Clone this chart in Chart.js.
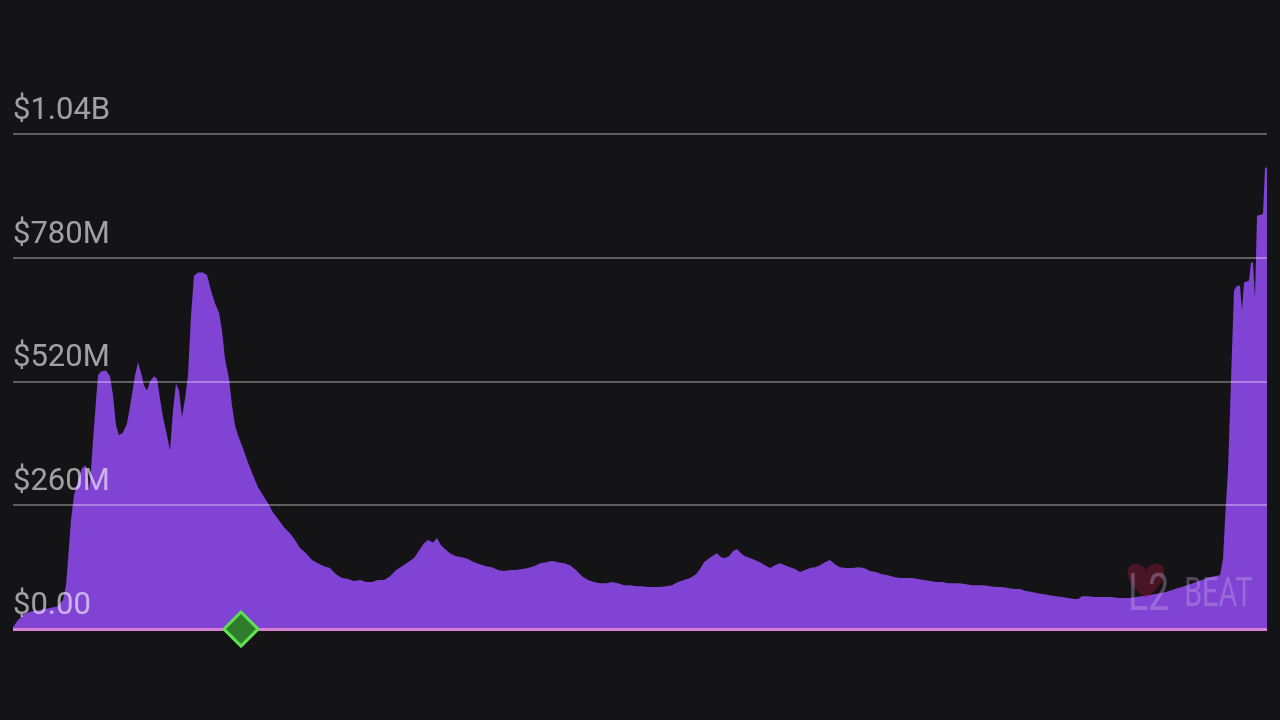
<!DOCTYPE html>
<html>
<head>
<meta charset="utf-8">
<script src="https://cdn.jsdelivr.net/npm/chart.js@4/dist/chart.umd.min.js"></script>
<style>
html,body{margin:0;padding:0;background:#141316;}
canvas{display:block;}
</style>
</head>
<body>
<canvas id="c" width="1280" height="720"></canvas>
<script>
// x positions (day index from start) and TVL values in millions USD
const days = [0,5,11,17,27,37,45,50,53,55,58,61,65,69,73,76,78,80,83,85,88,93,97,100,103,106,110,114,118,122,125,128,131,134,137,141,144,147,150,154,157,160,163,166,169,172,175,178,181,185,190,194,198,202,206,209,212,216,219,222,225,230,235,240,245,250,255,260,265,271,277,282,287,293,299,305,311,317,323,329,335,341,347,353,359,365,371,377,383,389,395,401,407,411,415,420,424,428,432,437,443,449,455,461,467,473,479,485,491,497,503,509,515,521,527,533,539,545,551,557,563,569,575,581,587,593,599,605,611,617,623,629,635,641,647,653,659,665,671,677,683,687,691,695,699,704,708,712,716,720,724,728,732,737,742,747,752,757,762,767,772,777,782,787,792,797,802,807,812,817,822,827,833,839,845,851,857,863,869,875,881,887,893,899,905,911,917,923,929,935,941,947,953,959,965,971,977,983,989,995,1001,1007,1013,1019,1025,1031,1037,1043,1049,1055,1061,1065,1069,1075,1081,1087,1093,1099,1105,1111,1117,1123,1129,1135,1141,1147,1153,1159,1165,1171,1177,1183,1189,1195,1201,1207,1210,1212,1215,1218,1221,1224,1227,1229,1231,1236,1238,1240,1242,1244,1250,1252,1254];
const tvl = [4,19,31,36,40,44,48,61,92,145,229,281,312,338,344,291,333,396,480,533,541,543,531,491,428,407,413,432,480,533,560,539,512,501,520,531,526,484,445,407,375,459,516,501,445,484,533,658,742,749,749,744,711,684,665,627,568,526,470,428,407,380,350,323,298,281,264,245,231,214,201,187,170,159,145,138,132,128,115,107,105,101,103,99,99,103,103,111,124,132,140,149,168,180,187,182,191,176,168,159,153,151,147,140,136,132,130,124,122,124,124,126,128,132,138,140,143,140,138,134,124,111,103,99,96,96,99,96,92,92,90,90,88,88,88,90,92,99,103,107,115,126,140,147,153,159,151,149,153,164,168,159,153,149,145,140,134,128,134,138,134,130,126,120,124,128,130,134,140,145,136,130,128,128,130,128,122,120,115,113,109,107,107,107,105,103,101,99,99,96,96,96,94,92,92,92,90,88,88,86,84,84,80,78,75,73,71,69,67,65,63,63,69,69,67,67,67,67,65,65,65,67,69,71,73,75,78,82,86,90,94,99,103,107,111,113,147,229,333,522,711,721,721,669,728,732,770,770,696,868,872,967,971];
const tickValues = [0, 260, 520, 780, 1040];
const tickLabels = ['$0.00', '$260M', '$520M', '$780M', '$1.04B'];
const markerDays = [228];
const markerValues = [0];

const lineData = days.map((d, i) => ({x: d, y: tvl[i]}));
const markerData = markerDays.map((d, i) => ({x: d, y: markerValues[i]}));

const redrawMarker = {
  id: 'redrawMarker',
  afterDraw(chart) {
    const ctx = chart.ctx;
    // watermark
    ctx.save();
    ctx.globalAlpha = 0.45;
    ctx.fillStyle = '#8a1838';
    const hx = 1146, hy = 574;
    ctx.beginPath();
    ctx.moveTo(hx, hy + 24);
    ctx.bezierCurveTo(hx - 24, hy + 8, hx - 22, hy - 12, hx - 8, hy - 10);
    ctx.bezierCurveTo(hx - 2, hy - 9, hx, hy - 4, hx, hy - 2);
    ctx.bezierCurveTo(hx, hy - 4, hx + 2, hy - 9, hx + 8, hy - 10);
    ctx.bezierCurveTo(hx + 22, hy - 12, hx + 24, hy + 8, hx, hy + 24);
    ctx.fill();
    ctx.globalAlpha = 1;
    ctx.fillStyle = 'rgba(205,185,235,0.33)';
    ctx.textBaseline = 'alphabetic';
    ctx.translate(1128, 610);
    ctx.scale(0.72, 1);
    ctx.font = '52px Roboto';
    ctx.fillText('L2', 0, 0);
    ctx.font = '40px Roboto';
    ctx.fillText('BEAT', 78, -4);
    ctx.restore();
    // marker on top of the baseline
    const meta = chart.getDatasetMeta(1);
    meta.data.forEach(el => el.draw(ctx));
  }
};

new Chart(document.getElementById('c'), {
  type: 'line',
  data: {
    datasets: [
      {
        data: lineData,
        fill: 'origin',
        backgroundColor: '#8043d3',
        borderWidth: 0,
        pointRadius: 0,
        tension: 0
      },
      {
        data: markerData,
        showLine: false,
        pointStyle: 'rectRot',
        pointRadius: 17,
        pointBorderWidth: 3,
        pointBackgroundColor: '#2f7d2c',
        pointBorderColor: '#5ce250',
        clip: false
      }
    ]
  },
  options: {
    responsive: false,
    devicePixelRatio: 1,
    animation: false,
    events: [],
    layout: {autoPadding: false, padding: {top: 134, left: 13, right: 13, bottom: 91}},
    plugins: {legend: {display: false}, tooltip: {enabled: false}},
    scales: {
      x: {
        type: 'linear',
        min: 0,
        max: 1254,
        display: false
      },
      y: {
        min: 0,
        max: 1040,
        border: {display: false},
        afterBuildTicks(scale) { scale.ticks = tickValues.map(v => ({value: v})); },
        grid: {
          z: 1,
          drawTicks: false,
          color: ctx => ctx.index === 0 ? '#d97fd4' : 'rgba(255,255,255,0.32)',
          lineWidth: ctx => ctx.index === 0 ? 3 : 2
        },
        ticks: {
          z: 2,
          mirror: true,
          padding: 0,
          labelOffset: -23,
          color: 'rgba(255,255,255,0.6)',
          font: {family: 'Roboto', size: 31},
          callback: (v) => tickLabels[tickValues.indexOf(v)]
        }
      }
    }
  },
  plugins: [redrawMarker]
});
</script>
</body>
</html>
